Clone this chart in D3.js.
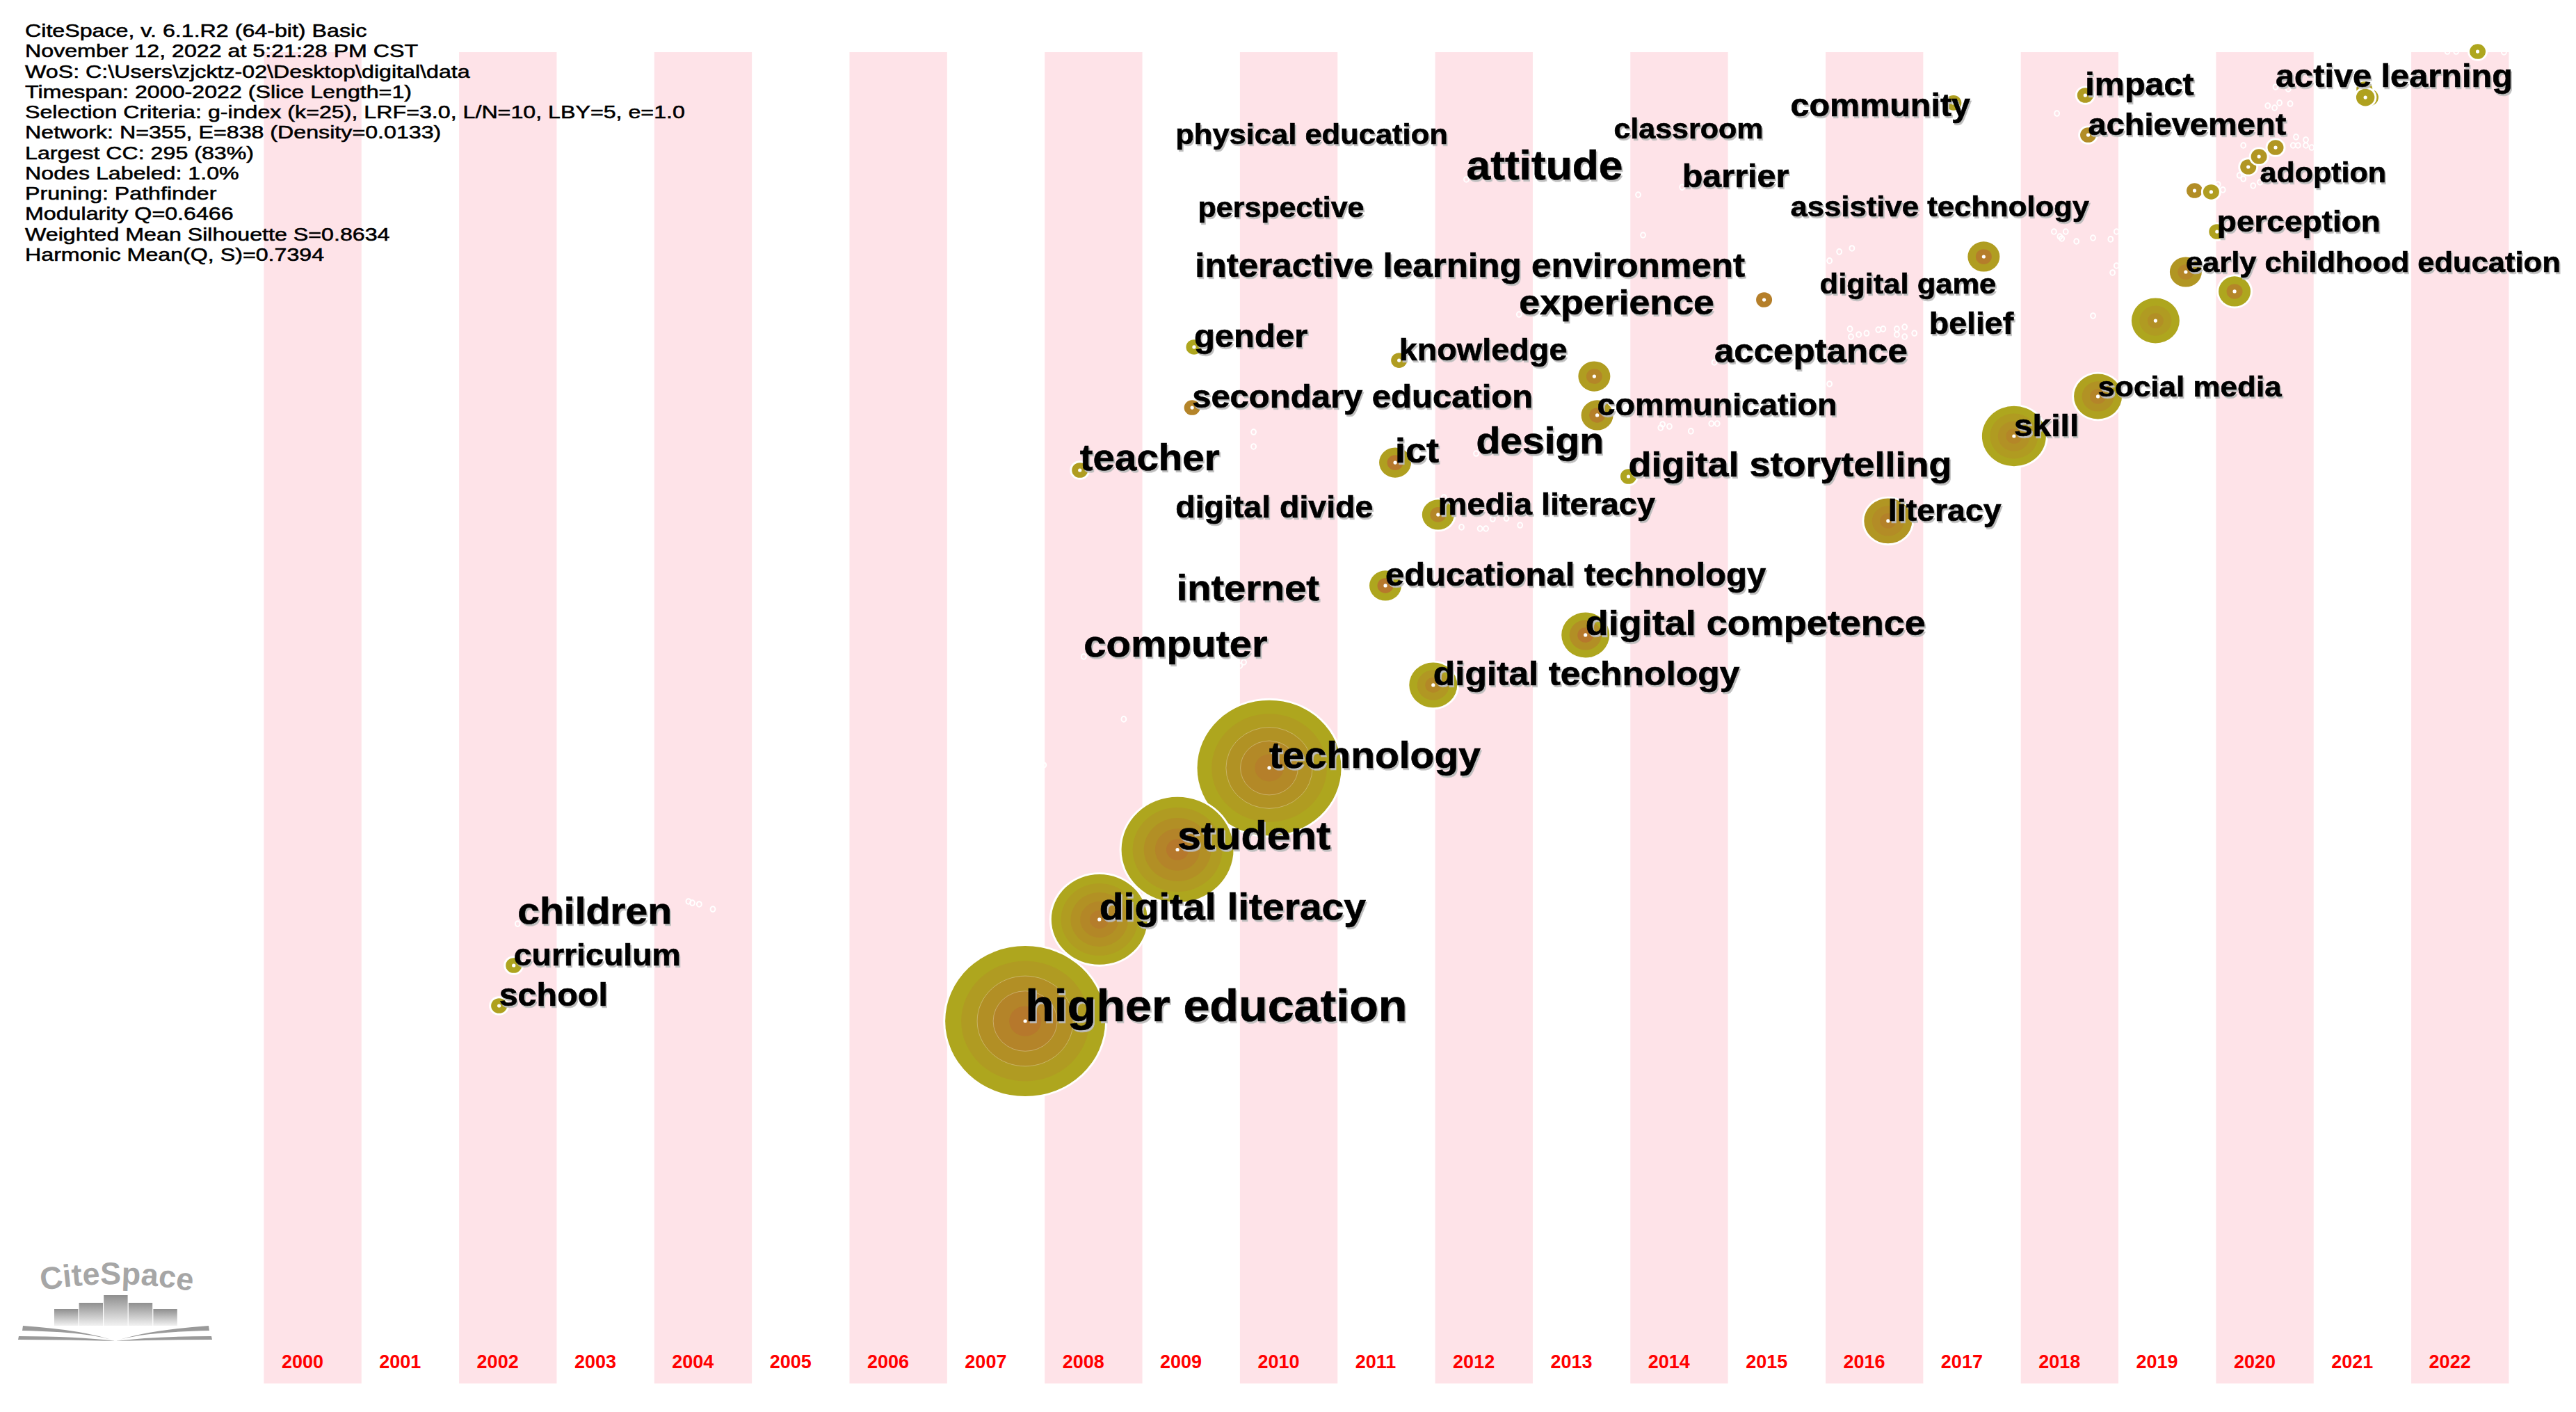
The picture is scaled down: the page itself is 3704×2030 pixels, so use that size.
<!DOCTYPE html>
<html>
<head>
<meta charset="utf-8">
<script src="https://cdn.jsdelivr.net/npm/d3@7"></script>
<style>
html,body{margin:0;padding:0;background:#fff;}
svg{display:block;}
text{font-family:"Liberation Sans",Arial,sans-serif;}
</style>
</head>
<body>
<div id="chart"></div>
<script>
// ---- data ----
const years = d3.range(2000, 2023);
const metaLines = [
  "CiteSpace, v. 6.1.R2 (64-bit) Basic",
  "November 12, 2022 at 5:21:28 PM CST",
  "WoS: C:\\Users\\zjcktz-02\\Desktop\\digital\\data",
  "Timespan: 2000-2022 (Slice Length=1)",
  "Selection Criteria: g-index (k=25), LRF=3.0, L/N=10, LBY=5, e=1.0",
  "Network: N=355, E=838 (Density=0.0133)",
  "Largest CC: 295 (83%)",
  "Nodes Labeled: 1.0%",
  "Pruning: Pathfinder",
  "Modularity Q=0.6466",
  "Weighted Mean Silhouette S=0.8634",
  "Harmonic Mean(Q, S)=0.7394"
];
const nodeLabels = ["technology","student","digital literacy","higher education","curriculum","school","teacher","gender","secondary education","knowledge","ict","media literacy","educational technology","digital technology","digital competence","","communication","digital storytelling","","literacy","","","skill","social media","impact","achievement","","","","","","perception","early childhood education","","","","","","",
  "physical education","attitude","perspective","interactive learning environment","experience","digital divide","internet","computer","design","classroom","barrier","digital game","belief","acceptance","children","community","assistive technology","adoption","active learning"];
const nodeYears = [2010.30,2009.36,2008.56,2007.80,2002.56,2002.41,2008.36,2009.53,2009.51,2011.63,2011.59,2012.03,2011.49,2011.98,2013.54,2013.63,2013.66,2013.98,2015.37,2016.64,2017.62,2017.31,2017.93,2018.79,2018.66,2018.69,2019.78,2019.95,2020.33,2020.44,2020.61,2020.01,2019.69,2020.19,2019.38,2021.57,2021.52,2021.53,2022.68,
  2009.34,2012.32,2009.57,2009.54,2012.86,2009.34,2009.35,2008.40,2012.42,2013.83,2014.53,2015.94,2017.06,2014.86,2002.60,2015.64,2015.64,2020.45,2020.61];
const nodeRows = [53.76,59.90,65.15,72.78,68.60,71.63,31.40,22.15,26.70,23.15,30.83,34.74,40.07,47.54,43.78,24.35,27.27,31.87,18.60,35.21,15.36,3.81,28.84,25.86,3.24,6.22,10.40,10.50,8.62,7.84,7.16,13.48,16.51,17.97,20.17,3.40,2.77,3.40,-0.05,
  6.90,9.56,12.38,16.88,19.70,34.95,41.17,45.40,30.15,6.48,10.14,18.13,21.16,23.30,65.47,4.81,12.33,9.77,2.61];
// frequency in units of one tree ring
const nodeFreq = [9,7,6,10,1,1,1,1,1,1,2,2,2,3,3,2,2,1,1,3,2,1,4,3,1,1,1,1,1,1,1,1,2,2,3,1.15,1,1.15,1,
  .3,.3,.3,.3,.3,.3,.3,.3,.3,.3,.3,.3,.3,.3,.3,.3,.3,.3,.3];
// slice warmth of the outermost and innermost tree ring: 0 late (olive) .. 1 early (orange)
const nodeOuterSlice = [0,0,0,0,.05,.1,.2,0,.75,.2,.15,.05,0,0,0,.2,.25,.05,.85,.35,.2,.15,0,.1,.25,.55,.55,.2,.35,.35,.35,.1,.35,0,0,.1,.1,.1,0];
const nodeInnerSlice = [.85,1,.9,1,.05,.1,.2,0,.75,.2,1,.7,1,.65,1,.7,.85,.05,.85,.8,.9,.15,.7,.75,.25,.55,.55,.2,.35,.35,.35,.1,.7,.7,.5,.1,.1,.1,0];
// label prominence
const nodeLabelWeight = [17,21,17,28.2,6.5,8.5,16.5,9,9,6.8,14,6.8,9,11.5,14,0,6.7,14,0,6.5,0,0,8,4,8.5,7,0,0,0,0,0,6,3.5,0,0,0,0,0,0,
  3.5,22.3,3,11.2,13.7,6.5,16,18,17,3,8.5,3.5,6.5,11,17,8.5,3.7,3,8.7];
const sideNodeYears = [2004.35,2004.39,2004.46,2004.60,2008.81,2007.99,2010.04,2010.14,2010.14,2012.27,2012.46,2012.52,2012.59,2012.73,2012.87,2012.09,2010.00,2013.56,2014.08,2014.13,2016.14,2016.27,2016.04,2016.25,2016.26,2016.34,2016.42,2016.54,2016.59,2016.73,2016.81,2016.73,2016.81,2016.91,2016.04,2018.37,2014.33,2014.40,2014.83,2014.89,2014.62,2014.31,2018.34,2018.46,2018.40,2018.42,2018.57,2018.74,2018.92,2018.98,2018.98,2018.94,2018.74,2020.53,2020.60,2020.65,2020.76,2020.82,2020.92,2020.79,2020.84,2020.92,2020.98,2020.28,2020.24,2020.28,2020.38,2020.02,2020.07,2022.46,2022.37,2022.95,2020.74,2002.36,2013.94,2013.96,2019.97,2019.83,2019.89,2020.35,2022.75];
const sideNodeRows = [63.79,63.90,64.00,64.37,50.10,53.55,45.82,28.53,29.62,35.68,35.79,35.79,35.06,35.01,35.53,33.44,46.08,25.29,10.71,13.74,14.99,14.73,15.67,20.79,21.37,21.21,21.11,20.85,20.79,20.79,20.64,21.21,21.37,21.11,24.92,4.60,27.95,28.11,27.90,27.90,28.47,28.21,13.48,13.48,13.85,14.00,14.21,13.95,14.05,13.48,16.04,16.56,19.80,4.02,4.18,3.81,3.87,6.37,6.58,7.00,7.00,7.00,7.16,7.00,9.25,9.51,10.03,9.93,10.34,-0.05,-0.05,0,2.77,71.37,31.87,31.61,10.55,10.34,10.29,8.62,-0.05];

// ---- scales ----
const W = 3704, H = 2030;
const x = d3.scaleLinear().domain([2000, 2022]).range([379.4, 3467.1]);
const y = d3.scaleLinear().domain([0, 100]).range([75, 1989]);
const rScale = d3.scaleLinear().domain([0, 10]).range([0, 115]);
const fontScale = d3.scaleLinear().domain([0, 30]).range([40, 70]);
const ringColor = d3.scaleLinear().domain([0, 1]).range(["#aea61e", "#b6782c"]);
const squash = 0.94;

const svg = d3.select("#chart").append("svg").attr("width", W).attr("height", H).attr("viewBox", `0 0 ${W} ${H}`);
svg.append("rect").attr("width", W).attr("height", H).attr("fill", "#fff");

// year bands
svg.append("g").selectAll("rect").data(years.filter(d => d % 2 === 0)).join("rect")
  .attr("x", d => x(d)).attr("width", x(2001) - x(2000))
  .attr("y", y(0)).attr("height", y(100) - y(0))
  .attr("fill", "#fee3e8");
// year labels
svg.append("g").selectAll("text").data(years).join("text")
  .attr("x", d => x(d) + 25.5).attr("y", 1967)
  .attr("font-size", 27).attr("font-weight", "bold").attr("fill", "#ff0000")
  .text(d => d);

// side nodes: small open circles
svg.append("g").selectAll("ellipse").data(sideNodeYears.map((v, i) => [v, sideNodeRows[i]])).join("ellipse")
  .attr("cx", d => x(d[0])).attr("cy", d => y(d[1]))
  .attr("rx", 3.4).attr("ry", 3.8)
  .attr("fill", "none").attr("stroke", "#fff").attr("stroke-width", 2);

// main nodes with tree rings
const nodes = nodeLabels.map((label, i) => ({
  label, year: nodeYears[i], row: nodeRows[i], freq: nodeFreq[i],
  outer: nodeOuterSlice[i], inner: nodeInnerSlice[i], weight: nodeLabelWeight[i]
}));
const nodeG = svg.append("g").selectAll("g").data(nodes).join("g")
  .attr("transform", d => `translate(${x(d.year)},${y(d.row)})`);
nodeG.each(function (d) {
  const g = d3.select(this);
  const R = rScale(d.freq);
  if (d.freq < 0.5) {
    g.append("ellipse").attr("rx", 3.4).attr("ry", 3.8).attr("fill", "none").attr("stroke", "#fff").attr("stroke-width", 2);
    return;
  }
  const n = Math.min(5, Math.ceil(d.freq));
  g.append("ellipse").attr("rx", R + 3).attr("ry", (R + 3) * squash).attr("fill", "#fff");
  d3.range(n).forEach(k => {
    const t = n === 1 ? d.outer : d.outer + (d.inner - d.outer) * (k / (n - 1));
    const rr = R * (n - k) / n;
    g.append("ellipse").attr("rx", rr).attr("ry", rr * squash)
      .attr("fill", ringColor(t));
  });
  if (d.freq >= 9) {
    [0.6, 0.4].forEach(f => g.append("ellipse").attr("rx", R * f).attr("ry", R * f * squash)
      .attr("fill", "none").attr("stroke", "#fff").attr("stroke-opacity", 0.3).attr("stroke-width", 1));
  }
  g.append("circle").attr("r", 2.6).attr("fill", "#fff");
});

// labels
svg.append("g").selectAll("text").data(nodes.filter(d => d.label)).join("text")
  .attr("transform", d => `translate(${x(d.year)},${y(d.row)}) scale(1,${squash})`)
  .attr("font-size", d => fontScale(d.weight)).attr("font-weight", "bold").attr("fill", "#000")
  .attr("stroke", "#000").attr("stroke-width", 0.7)
  .style("filter", "drop-shadow(2.5px 3px 0.6px #bdbdbd)")
  .text(d => d.label);

// header lines
svg.append("g").selectAll("text").data(metaLines).join("text")
  .attr("transform", (d, i) => `translate(36,${53 + i * 29.27}) scale(1.215,1)`)
  .attr("font-size", 26.5).attr("fill", "#000").attr("stroke", "#000").attr("stroke-width", 0.55)
  .text(d => d);

// CiteSpace logo
const defs = svg.append("defs");
const grad = defs.append("linearGradient").attr("id", "barGrad").attr("x1", 0).attr("x2", 0).attr("y1", 0).attr("y2", 1);
grad.append("stop").attr("offset", 0).attr("stop-color", "#8f8f8f");
grad.append("stop").attr("offset", 1).attr("stop-color", "#f2f2f2");
defs.append("path").attr("id", "logoArc").attr("d", "M50,1857 Q166,1835 286,1858");
const logo = svg.append("g");
logo.append("text").attr("font-family", "Open Sans, Liberation Sans, sans-serif").attr("font-weight", "bold")
  .attr("font-size", 45).attr("fill", "#a6a6a6")
  .append("textPath").attr("href", "#logoArc").attr("startOffset", "50%").attr("text-anchor", "middle").text("CiteSpace");
const logoBarHeights = [24, 33, 44, 33, 24];
logo.selectAll("rect").data(logoBarHeights).join("rect")
  .attr("x", (d, i) => 78 + i * 35.6).attr("width", 34.4)
  .attr("y", d => 1906 - d).attr("height", d => d).attr("fill", "url(#barGrad)");
[
  "M33,1906 Q120,1912 166,1928 Q130,1915 32,1913 Z",
  "M300,1906 Q212,1912 166,1928 Q202,1915 301,1913 Z",
  "M27,1921 Q110,1921 166,1928 Q100,1926 26,1926 Z",
  "M304,1921 Q222,1921 166,1928 Q232,1926 305,1926 Z"
].forEach(p => logo.append("path").attr("d", p).attr("fill", "#9a9a9a"));
</script>
</body>
</html>
